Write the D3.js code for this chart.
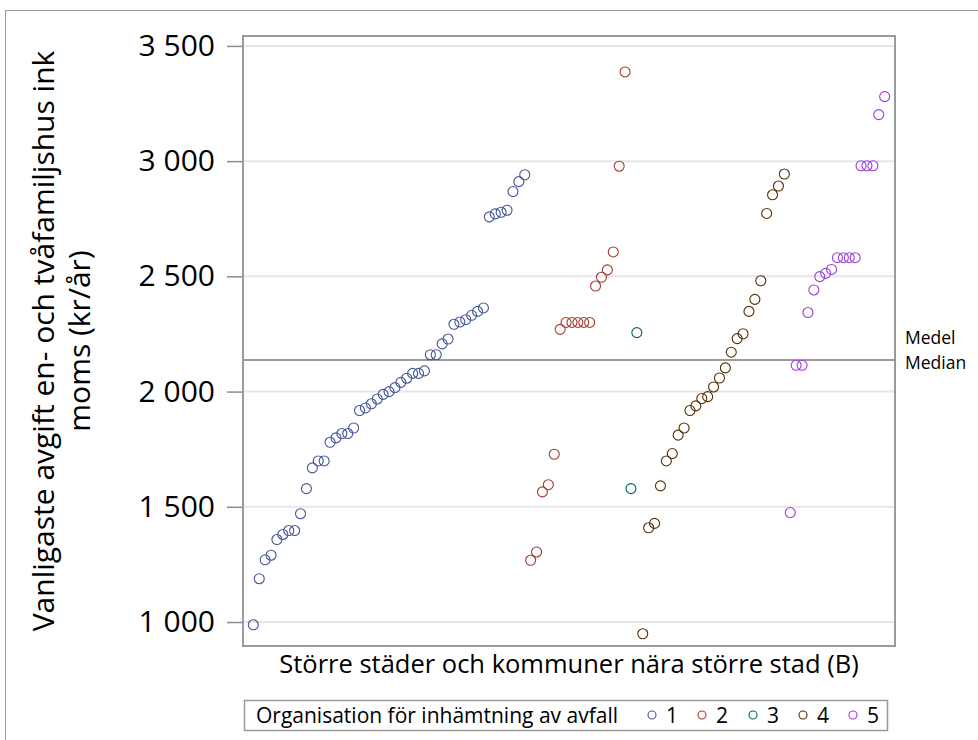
<!DOCTYPE html>
<html>
<head>
<meta charset="utf-8">
<script src="https://cdn.jsdelivr.net/npm/d3@7"></script>
<style>
  html, body { margin: 0; padding: 0; background: #fff; }
  svg { display: block; font-family: "Open Sans", "Noto Sans", sans-serif; }
</style>
</head>
<body>
<svg id="chart" width="978" height="740"></svg>
<script>
// ---- data ----
const categories = ["1", "2", "3", "4", "5"];
const colors = ["#445694", "#A23A2E", "#01665E", "#543005", "#9D3CDB"];
const values1 = [988, 1188, 1270, 1290, 1358, 1380, 1397, 1397, 1470, 1579, 1669, 1699, 1699,
  1780, 1799, 1818, 1818, 1842, 1918, 1929, 1947, 1968, 1988, 2000, 2017, 2040, 2058, 2079,
  2079, 2090, 2160, 2160, 2207, 2228, 2292, 2302, 2312, 2331, 2348, 2363, 2758, 2771, 2778,
  2787, 2868, 2911, 2941];
const values2 = [1268, 1304, 1565, 1596, 1728, 2270, 2300, 2300, 2300, 2300, 2300, 2458, 2496,
  2528, 2606, 2978, 3387];
const values3 = [1579, 2256];
const values4 = [949, 1409, 1428, 1591, 1699, 1731, 1811, 1842, 1918, 1938, 1970, 1978, 2020,
  2059, 2103, 2171, 2230, 2251, 2348, 2400, 2481, 2773, 2854, 2892, 2944];
const values5 = [1475, 2114, 2114, 2343, 2441, 2499, 2513, 2530, 2581, 2581, 2581, 2581, 2980,
  2980, 2980, 3202, 3280];
const seriesValues = [values1, values2, values3, values4, values5];
const yTicks = [1000, 1500, 2000, 2500, 3000, 3500];
const medianValue = 2137;
const yTitleLines = ["Vanligaste avgift en- och tvåfamiljshus ink", "moms (kr/år)"];
const xTitle = "Större städer och kommuner nära större stad (B)";
const legendTitle = "Organisation för inhämtning av avfall";
const refLabels = ["Medel", "Median"];

// ---- build points ----
const points = [];
seriesValues.forEach((vals, gi) => {
  vals.forEach(v => points.push({ idx: points.length, group: gi, value: v }));
});

const svg = d3.select("#chart");
const frame = { left: 243, right: 895, top: 36, bottom: 646 };

// outer border
svg.append("rect").attr("x", 5.5).attr("y", 10.5).attr("width", 1200).attr("height", 1200)
  .attr("fill", "none").attr("stroke", "#9a9a9a").attr("stroke-width", 1);

const x = d3.scalePoint().domain(points.map(d => d.idx))
  .range([frame.left, frame.right]).padding(1.75);
const y = d3.scaleLinear().domain([896, 3543]).range([frame.bottom, frame.top]);

// gridlines
svg.append("g").selectAll("line").data(yTicks).join("line")
  .attr("x1", frame.left).attr("x2", frame.right)
  .attr("y1", d => y(d)).attr("y2", d => y(d))
  .attr("stroke", "#e6e6e6").attr("stroke-width", 2);

// y axis
const fmt = d => d3.format(",")(d).replace(/,/g, " ");
const yAxis = d3.axisLeft(y).tickValues(yTicks).tickFormat(fmt).tickSize(16).tickPadding(12);
const gy = svg.append("g").attr("transform", `translate(${frame.left},0)`).call(yAxis);
gy.select(".domain").remove();
gy.selectAll(".tick line").attr("stroke", "#8c8c8c").attr("stroke-width", 1.5);
gy.selectAll(".tick text").attr("font-size", 30).attr("fill", "#000")
  .attr("font-family", "Open Sans, sans-serif");

// median reference line
svg.append("line").attr("x1", frame.left).attr("x2", frame.right)
  .attr("y1", y(medianValue)).attr("y2", y(medianValue))
  .attr("stroke", "#9a9a9a").attr("stroke-width", 2);
svg.append("g").selectAll("text").data(refLabels).join("text")
  .attr("x", frame.right + 10)
  .attr("y", (d, i) => y(medianValue) - 16 + i * 25)
  .attr("font-size", 17.5).attr("fill", "#000").text(d => d);

// points
svg.append("g").selectAll("circle").data(points).join("circle")
  .attr("cx", d => x(d.idx)).attr("cy", d => y(d.value)).attr("r", 5)
  .attr("fill", "none").attr("stroke", d => colors[d.group]).attr("stroke-width", 1.1);

// frame
svg.append("rect").attr("x", frame.left).attr("y", frame.top)
  .attr("width", frame.right - frame.left).attr("height", frame.bottom - frame.top)
  .attr("fill", "none").attr("stroke", "#9a9a9a").attr("stroke-width", 2);

// y title
const yt = svg.append("text").attr("transform", `translate(0,${(frame.top + frame.bottom) / 2}) rotate(-90)`)
  .attr("text-anchor", "middle").attr("font-size", 30).attr("fill", "#000");
yTitleLines.forEach((t, i) => yt.append("tspan").attr("x", 0).attr("y", 54 + i * 36).text(t));

// x title
svg.append("text").attr("x", (frame.left + frame.right) / 2).attr("y", 673)
  .attr("text-anchor", "middle").attr("font-size", 25.5).attr("fill", "#000").text(xTitle);

// legend
const lg = svg.append("g");
lg.append("rect").attr("x", 244.5).attr("y", 700.5).attr("width", 643).attr("height", 30)
  .attr("fill", "none").attr("stroke", "#9a9a9a").attr("stroke-width", 1.5);
lg.append("text").attr("x", 256).attr("y", 723).attr("font-size", 21).attr("fill", "#000").text(legendTitle);
const legX = [652, 702, 753, 803, 853];
const items = lg.selectAll("g.item").data(categories).join("g").attr("class", "item")
  .attr("transform", (d, i) => `translate(${legX[i]},715)`);
items.append("circle").attr("r", 4).attr("fill", "none").attr("stroke", (d, i) => colors[i]).attr("stroke-width", 1.1);
items.append("text").attr("x", 14).attr("y", 8).attr("font-size", 21).attr("fill", "#000").text(d => d);
</script>
</body>
</html>
